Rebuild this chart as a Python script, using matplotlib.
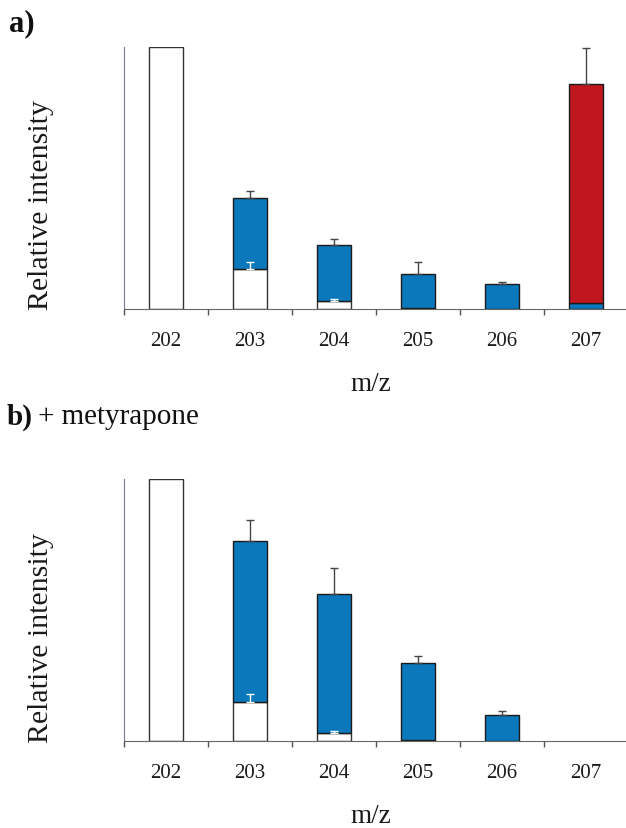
import matplotlib.pyplot as plt
import numpy as np

plt.rcParams['font.family'] = ['Liberation Serif', 'DejaVu Serif']

#m/z channels
mz = ['202', '203', '204', '205', '206', '207']

#panel a: stacked segments (white bottom, blue middle, red top) + upward errors
white_a = [1.0, 0.153, 0.030, 0.004, 0.0, 0.0]
white_err_a = [0.0, 0.027, 0.008, 0.0, 0.0, 0.0]
blue_a = [0.0, 0.271, 0.214, 0.130, 0.095, 0.023]
blue_err_a = [0.0, 0.027, 0.023, 0.046, 0.008, 0.0]
red_a = [0.0, 0.0, 0.0, 0.0, 0.0, 0.836]
red_err_a = [0.0, 0.0, 0.0, 0.0, 0.0, 0.137]

#panel b: + metyrapone
white_b = [1.0, 0.149, 0.030, 0.004, 0.0, 0.0]
white_err_b = [0.0, 0.030, 0.010, 0.0, 0.0, 0.0]
blue_b = [0.0, 0.614, 0.532, 0.294, 0.098, 0.0]
blue_err_b = [0.0, 0.080, 0.097, 0.025, 0.018, 0.0]
red_b = [0.0, 0.0, 0.0, 0.0, 0.0, 0.0]
red_err_b = [0.0, 0.0, 0.0, 0.0, 0.0, 0.0]

BLUE = '#0a78bb'
RED = '#c0171f'
W = 0.405

fig = plt.figure(figsize=(6.26, 8.29), dpi=100)


def draw_panel(ax, white, white_err, blue, blue_err, red, red_err):
    x = np.arange(len(mz))
    white = np.array(white)
    blue = np.array(blue)
    red = np.array(red)
    mask = white > 0
    ax.bar(x[mask], white[mask], W, color='white', edgecolor='#333333', lw=1.0, zorder=2)
    mask = blue > 0
    ax.bar(x[mask], blue[mask], W, bottom=white[mask], color=BLUE,
           edgecolor='#1a1a1a', lw=1.0, zorder=2)
    mask = red > 0
    ax.bar(x[mask], red[mask], W, bottom=(white + blue)[mask], color=RED,
           edgecolor='#1a1a1a', lw=1.0, zorder=2)

    # error bars, only pointing up
    we = np.array(white_err)
    m = we > 0
    ax.errorbar(x[m], white[m], yerr=[np.zeros(m.sum()), we[m]], fmt='none',
                ecolor='white', elinewidth=1.0, capsize=3, capthick=1.0, zorder=3)
    be = np.array(blue_err)
    m = be > 0
    ax.errorbar(x[m], (white + blue)[m], yerr=[np.zeros(m.sum()), be[m]], fmt='none',
                ecolor='#444444', elinewidth=1.0, capsize=3, capthick=1.0, zorder=3)
    re = np.array(red_err)
    m = re > 0
    ax.errorbar(x[m], (white + blue + red)[m], yerr=[np.zeros(m.sum()), re[m]], fmt='none',
                ecolor='#444444', elinewidth=1.0, capsize=3, capthick=1.0, zorder=3,
                clip_on=False)

    ax.set_xlim(-0.5, len(mz) - 0.5)
    ax.set_ylim(0, 1.0)
    for s in ['top', 'right']:
        ax.spines[s].set_visible(False)
    ax.spines['left'].set_color('#7a7a9a')
    ax.spines['bottom'].set_color('#666666')
    ax.set_yticks([])
    ax.set_xticks(x)
    ax.set_xticklabels(mz, fontsize=15, color='#1a1a1a')
    ax.tick_params(axis='x', which='major', length=0, pad=16)
    ax.set_xticks(np.arange(len(mz) + 1) - 0.5, minor=True)
    ax.tick_params(axis='x', which='minor', length=4.5, width=1.0,
                   direction='out', color='#555555')
    ax.text(0.49, -0.285, 'm/z', transform=ax.transAxes, ha='center', va='center',
            fontsize=19.5, color='#1a1a1a')


ax_a = fig.add_axes([124 / 626, (829 - 310) / 829, 504 / 626, 262 / 829])
draw_panel(ax_a, white_a, white_err_a, blue_a, blue_err_a, red_a, red_err_a)
ax_b = fig.add_axes([124 / 626, (829 - 742) / 829, 504 / 626, 262 / 829])
draw_panel(ax_b, white_b, white_err_b, blue_b, blue_err_b, red_b, red_err_b)

#y labels and panel tags
fig.text(41 / 626, 1 - 205 / 829, 'Relative intensity', rotation=90, ha='center',
         va='center', fontsize=21.5, color='#1a1a1a')
fig.text(41 / 626, 1 - 638 / 829, 'Relative intensity', rotation=90, ha='center',
         va='center', fontsize=21.5, color='#1a1a1a')
fig.text(9 / 626, 1 - 24 / 829, 'a)', fontsize=22, fontweight='bold', va='center',
         color='#111111')
fig.text(7 / 626, 1 - 417 / 829, r'b)', fontsize=21, fontweight='bold', va='center',
         color='#111111')
fig.text(38 / 626, 1 - 417 / 829, '+ metyrapone', fontsize=21, va='center',
         color='#111111')

fig.savefig('out.png', dpi=100)
